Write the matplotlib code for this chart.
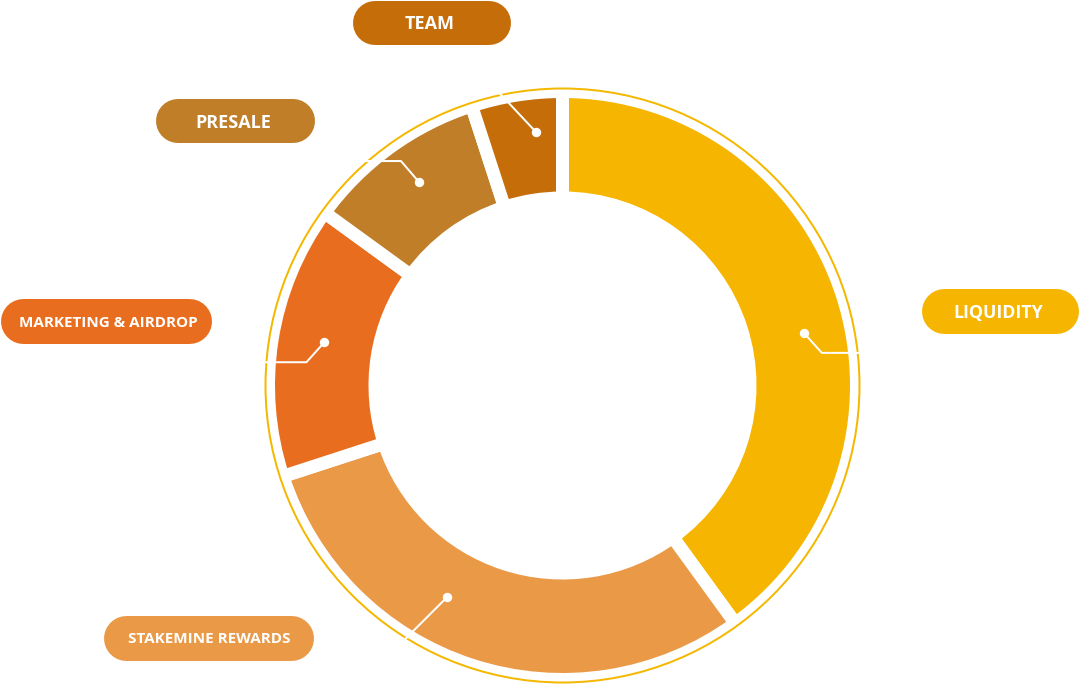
import matplotlib
matplotlib.use('Agg')
import matplotlib.pyplot as plt
import numpy as np
from matplotlib.patches import Circle

# ===== 数据 =====
labels = ['LIQUIDITY', 'STAKEMINE REWARDS', 'MARKETING & AIRDROP', 'PRESALE', 'TEAM']
shares = [40, 30, 15, 10, 5]
colors = ['#F6B500', '#EA9947', '#E96D1F', '#BF7E27', '#C56D08']

# ===== 布局 (像素) =====
W, H = 1080, 695
cx, cy = 562.5, 385.5
r_out, r_in = 287.5, 194
gap = 13
ring_r = 297
ring_color = '#F5B800'

# leader: angle nudge (deg), dot radius, path offsets
nudge = [5.7, 10.6, 1.3, 0.8, 3.0]
dot_r = [247, 241, 242, 249, 255]
paths = [[(18, 20), (60, 0)],
         [(-48, 48)],
         [(-18, 20), (-50, 0)],
         [(-18, -21), (-50, 0)],
         [(-45, -48)]]

# label boxes: center x, center y, width, height, text x, text y, font size
boxes = [(1000.3, 310.8, 157, 45, 998, 311.7, 12.8),
         (208.3, 637.5, 210, 45, 209, 638, 11),
         (105.5, 320.8, 211, 45, 108, 322, 11),
         (235.5, 121.2, 159, 44, 233, 122, 13),
         (431.7, 22.5, 158, 44, 430, 22.7, 13)]

fig = plt.figure(figsize=(W / 100, H / 100), dpi=100)
ax = fig.add_axes([0, 0, 1, 1])
pt = 72 / fig.dpi

wedges, _ = ax.pie(shares, colors=colors, center=(cx, cy), radius=r_out + gap / 2,
                   startangle=-90, counterclock=True,
                   wedgeprops=dict(width=r_out - r_in + gap, edgecolor='white',
                                   linewidth=gap * pt))
ax.set_xlim(0, W)
ax.set_ylim(H, 0)
ax.set_aspect('equal')
ax.axis('off')

ax.add_patch(Circle((cx, cy), ring_r, fill=False, ec=ring_color, lw=2 * pt, zorder=3))

# 引线 + 圆点
for i, w in enumerate(wedges):
    a = np.deg2rad((w.theta1 + w.theta2) / 2 + nudge[i])
    x0 = cx + dot_r[i] * np.cos(a)
    y0 = cy + dot_r[i] * np.sin(a)
    xs, ys = [x0], [y0]
    for dx, dy in paths[i]:
        xs.append(xs[-1] + dx)
        ys.append(ys[-1] + dy)
    ax.plot(xs, ys, color='white', lw=2 * pt, zorder=4, solid_capstyle='butt')
    ax.plot(x0, y0, 'o', color='white', ms=8 * pt, zorder=5)

# 标签 (胶囊形: 粗线 + 圆头)
for i, (bx, by, bw, bh, tx, ty, fs) in enumerate(boxes):
    half = (bw - bh) / 2
    ax.plot([bx - half, bx + half], [by, by], color=colors[i], lw=bh * pt,
            solid_capstyle='round', zorder=2)
    cap = 0.714 * fs / pt
    ax.text(tx, ty + cap / 2, labels[i], color='white', fontsize=fs, fontweight='bold',
            family='Open Sans', ha='center', va='baseline', zorder=3)

plt.savefig('out.png', dpi=100, facecolor='white')
plt.close()
